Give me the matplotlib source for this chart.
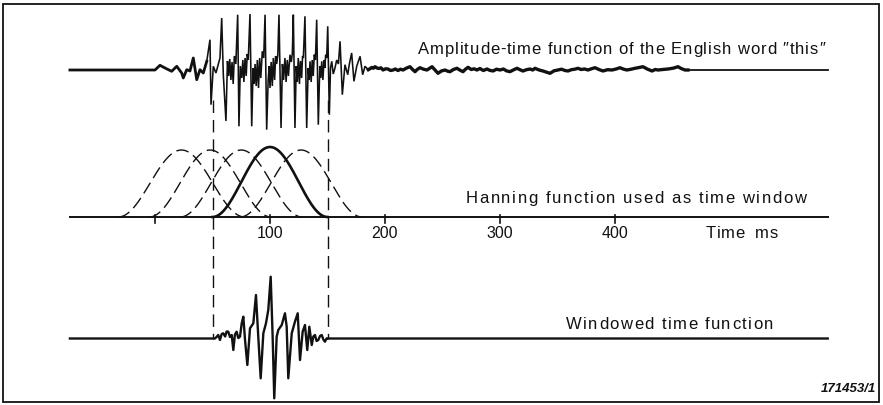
import numpy as np
import matplotlib
matplotlib.use("Agg")
import matplotlib.pyplot as plt
from matplotlib.patches import Rectangle
from matplotlib.font_manager import FontProperties, findfont
from matplotlib.ft2font import FT2Font

plt.rcParams["font.family"] = ["Liberation Sans", "DejaVu Sans"]
plt.rcParams["lines.scale_dashes"] = False

# ---------------------------------------------------------------- data
# Speech signal "this": time in ms, amplitude (arbitrary units)
onset_t = [-74, 0, 4.3, 8.7, 14.5, 18.9, 23.2, 24.6, 27.6, 30.4, 33.3, 36.3,
           39.1, 42.0, 45.0]
onset_a = [0, 0, 4.7, 2, -1.3, 3.7, -3, -8, 0.3, -1, 12, -9.7,
           0.3, -3, 8.7]

speech_t = [45.0, 47.8, 48.7, 50.7, 53.0, 56.5, 58.0, 59.4, 61.7,
            63.0, 64.0, 65.0, 66.0, 67.0, 68.0, 69.0, 70.3, 71.9, 73.0,
            74.2, 75.4, 76.4, 77.3, 78.3, 79.3, 80.2, 81.1, 82.6, 84.1,
            85.3, 86.2, 87.0, 88.0, 89.0, 90.0, 91.0, 92.0, 93.3, 94.5, 95.7, 97.1,
            98.4, 99.3, 100.0, 101.0, 102.0, 102.9, 104.0, 104.9, 105.8, 106.8, 107.8, 109.6,
            110.8, 111.8, 113.0, 114.0, 115.0, 116.0, 117.4, 118.5, 119.4, 120.3, 121.7,
            122.8, 123.7, 124.6, 125.6, 126.5, 127.5, 128.3, 129.0, 130.4, 131.9,
            133.2, 134.0, 134.8, 135.8, 136.7, 137.6, 138.5, 139.5, 140.6, 142.0,
            143.3, 144.2, 145.0, 146.0, 147.0, 147.7, 148.4, 149.3, 150.2, 151.6,
            152.6, 153.7, 155.0, 156.5, 158.0, 159.5, 160.9, 162.9, 165.2, 167.6,
            169.0, 171.0, 173.0, 175.4, 178.3, 180.6, 182.6, 185.5]
speech_a = [8.7, 30.3, -34.7, 3.7, -3, 12, 52, -4.7, -51,
            9, -6, 11, -10, 8, -14, 14, 6, 55.3, -56.3,
            4, -8, 10, -12, 12, -6, 16, 10, 56, -56.3,
            2, -14, 6, -16, 10, -18, 12, -8, 18.7, 12, 55.3, -59.7,
            -10, 4, -18, 8, -16, 12, -10, 14, 6, 15.3, 55.3, -58,
            6, -10, 12, -12, 10, -6, 15.3, 8, 16, 55.3, -58,
            4, -12, 12, -14, 9, -8, 14, 12, 53.7, -58,
            2, -10, 8.7, -12, 10, -6, 15.3, 10, 50.3, -54.7,
            4, -8, 8.7, -10, 10, 2, 15.3, 12, 43.7, -44.7,
            2, 8.7, -4, 2, 10, 6, 28.7, -24.7, 5.3, -4.7,
            6, 17, -11.3, 3.7, 13.7, -4.7, 3.7, 0.3]

# Low-level tail of the word ("s" friction and background)
tail_t = [185.5, 186.5, 188.5, 190.0, 191.3, 193.0, 194.8, 196.5, 198.3, 200.5,
          202.6, 204.8, 207.0, 209.0, 211.3, 213.5, 215.7, 218.5, 221.7, 224.0,
          226.1, 228.0, 230.4, 233.5, 236.5, 238.5, 240.9, 243.5, 246.1, 249.0,
          252.2, 254.5, 256.5, 259.5, 262.6, 265.0, 267.8, 270.0, 272.2, 275.0,
          277.5, 280.0, 282.5, 285.5, 288.7, 291.0, 293.9, 297.0, 300.0, 303.0,
          305.5, 308.7, 311.5, 314.8, 317.5, 320.0, 323.0, 326.1, 328.5, 330.4,
          334.0, 337.4, 340.5, 343.5, 347.0, 350.4, 353.5, 356.5, 359.1, 362.0,
          365.0, 367.8, 370.5, 373.5, 376.5, 379.5, 382.6, 386.0, 389.6, 393.5,
          397.4, 401.0, 404.3, 407.5, 410.4, 414.0, 417.4, 421.0, 424.3, 428.0,
          432.2, 435.0, 437.4, 441.5, 446.1, 450.5, 454.8, 457.5, 460.9, 463.5]
tail_a = [0.3, 1.0, 2.5, 1.8, 3.3, 2.0, 1.5, 2.2, 0.0, 1.2,
          1.0, -0.5, 0.0, 1.0, -0.5, 0.8, 0.0, 1.8, 3.3, 0.5,
          -1.7, 0.5, 2.3, 0.8, 0.0, 1.5, 3.3, 0.0, -3.3, -1.0,
          0.0, -1.2, -1.7, 0.5, 1.7, 0.0, -1.7, 0.8, 2.7, 0.5,
          1.2, 0.0, 1.5, -0.5, 1.0, -0.3, -1.0, 0.8, 0.0, 1.0,
          -0.8, -1.7, 0.0, 1.7, 0.2, -1.0, 0.3, 1.0, 0.0, 1.7,
          0.0, -1.0, -2.2, -3.3, -0.8, 0.0, 0.8, -0.5, -1.0, 0.3,
          0.8, 1.7, 0.5, 1.0, 0.0, 1.2, 2.3, 0.5, -1.0, 0.3,
          0.0, 1.0, 2.3, 0.8, 0.0, 0.8, 1.7, 2.5, 3.3, 1.0,
          -1.0, 0.5, 0.0, 0.5, 1.0, 1.8, 3.3, 1.5, 0.0, 0.0]
silence_t = [463.5, 585]
silence_a = [0, 0]

# Windowed time function (segment 50-150 ms times the Hanning window)
windowed_t = [-74, 52.2, 53.7, 55.0, 56.5, 58.0, 59.4, 61.0, 62.3, 63.7, 65.2, 66.7,
              68.1, 69.5, 71.0, 72.4, 73.9, 75.4, 76.8, 78.3, 80.3, 82.6, 85.5,
              87.8, 89.8, 91.9, 94.2, 96.5, 98.5, 100.6, 102.3, 103.7, 105.8,
              107.2, 110.2, 113.0, 114.5, 115.9, 118.9, 121.7, 124.1, 126.1,
              128.4, 130.4, 132.4, 134.2, 136.3, 137.7, 139.1, 140.5, 142.0,
              143.5, 145.0, 146.4, 147.8, 149.3, 150.5, 585]
windowed_a = [0, 0, 1.8, 3.5, -1.5, 4.5, 5.2, 2.0, 7.0, 6.8, 1.5, 3.5,
              -11.5, 4.0, 6.8, 0.5, 1.8, 15.2, 21.8, -1.5, -26.5, 10.2, 15.2,
              43.5, 1.8, -39.8, 5.2, 15.2, 28.5, 61.8, 1.8, -59.8, 1.8,
              8.5, 13.5, 25.2, 11.8, -39.8, 5.2, 16.8, 25.2, -21.5,
              6.8, 13.5, -11.5, 11.8, -6.5, 2.0, 3.5, -2.5, -1.5,
              2.5, 3.5, -1.0, -3.2, 0.2, 0, 0]

# Hanning windows: centre (ms), half length (ms), height
window_centres = [23, 48, 75, 100, 127]
window_halves = [55, 53, 53, 50, 53]
window_heights = [67, 67, 67, 70, 67]
highlight_window = 3          # index of the window drawn solid

# Segment cut out by the highlighted window (ms)
segment_edges = [50, 150]

# Time axis
tick_values = [0, 100, 200, 300, 400]
tick_labels = ["", "100", "200", "300", "400"]

# ---------------------------------------------------------------- layout
W, H = 883, 405
X0_PX, PX_PER_MS = 155.0, 1.15          # x pixel of t=0 and scale
Y_SPEECH, Y_AXIS, Y_WINDOWED = 70.0, 217.0, 338.5
T_LEFT, T_RIGHT = -74, 585


def ms(px):
    return (px - X0_PX) / PX_PER_MS


fig = plt.figure(figsize=(W / 100, H / 100), dpi=100)
ax = fig.add_axes([0, 0, 1, 1])
ax.set_xlim(ms(0), ms(W))
ax.set_ylim(H, 0)
ax.axis("off")

ink = "#111111"


def spaced_text(x_px, x_end_px, y_px, s, size=12):
    """Draw s left-aligned at x_px, letter-spaced so it ends at x_end_px."""
    prop = FontProperties(family="Liberation Sans", size=size)
    font = FT2Font(findfont(prop))
    font.set_size(size, fig.dpi)
    adv = []
    for ch in s:
        g = font.load_char(ord(ch))
        adv.append(g.linearHoriAdvance / 65536.0)
    pens = np.concatenate([[0.0], np.cumsum(adv)])
    natural = pens[-1]
    extra = (x_end_px - x_px - natural) / max(len(s) - 1, 1)
    for i, ch in enumerate(s):
        if ch == " ":
            continue
        xi = x_px + pens[i] + i * extra
        ax.text(ms(xi), y_px, ch, ha="left", va="baseline",
                fontproperties=prop, color=ink)


# speech waveform
ax.plot(onset_t, Y_SPEECH - np.array(onset_a), color=ink, lw=2.0,
        solid_joinstyle="round")
ax.plot(speech_t, Y_SPEECH - np.array(speech_a), color=ink, lw=1.15,
        solid_joinstyle="miter")
ax.plot(tail_t, Y_SPEECH - np.array(tail_a), color=ink, lw=2.4,
        solid_joinstyle="round")
ax.plot(silence_t, Y_SPEECH - np.array(silence_a), color=ink, lw=1.3)
ax.plot([T_LEFT, 0], [Y_SPEECH, Y_SPEECH], color=ink, lw=1.3)

# Hanning windows
for i, (c, hw, h) in enumerate(zip(window_centres, window_halves, window_heights)):
    x = np.linspace(c - hw, c + hw, 200)
    y = h * 0.5 * (1 + np.cos(np.pi * (x - c) / hw))
    if i == highlight_window:
        ax.plot(x, Y_AXIS - y, color=ink, lw=1.9)
    else:
        ax.plot(x, Y_AXIS - y, color=ink, lw=1.0, dashes=(9, 4))

# time axis
ax.plot([T_LEFT, T_RIGHT], [Y_AXIS, Y_AXIS], color=ink, lw=1.4)
for v, lab in zip(tick_values, tick_labels):
    ax.plot([v, v], [Y_AXIS - 2, Y_AXIS + 6], color=ink, lw=1.2)
    if lab:
        ax.text(v, 238, lab, ha="center", va="baseline", fontsize=11.5, color=ink)
spaced_text(706, 778, 238, "Time  ms")

# windowed function
ax.plot(windowed_t, Y_WINDOWED - np.array(windowed_a), color=ink, lw=1.7)

# segment boundaries
for e in segment_edges:
    ax.plot([e, e], [100, Y_WINDOWED], color=ink, lw=1.0, dashes=(9, 5))

# labels
spaced_text(418, 825, 54, "Amplitude-time function of the English word \u2033this\u2033")
spaced_text(466, 806, 203, "Hanning function used as time window")
spaced_text(566, 773, 329, "Windowed time function")
ax.text(ms(876), 392, "171453/1", ha="right", va="baseline", fontsize=9.5,
        style="italic", fontweight="bold", color=ink)

# frame
fig.patches.append(Rectangle((3 / W, 3 / H), 876 / W, 398 / H, transform=fig.transFigure,
                             fill=False, lw=1.3, edgecolor=ink))

fig.savefig("out.png", dpi=100)
